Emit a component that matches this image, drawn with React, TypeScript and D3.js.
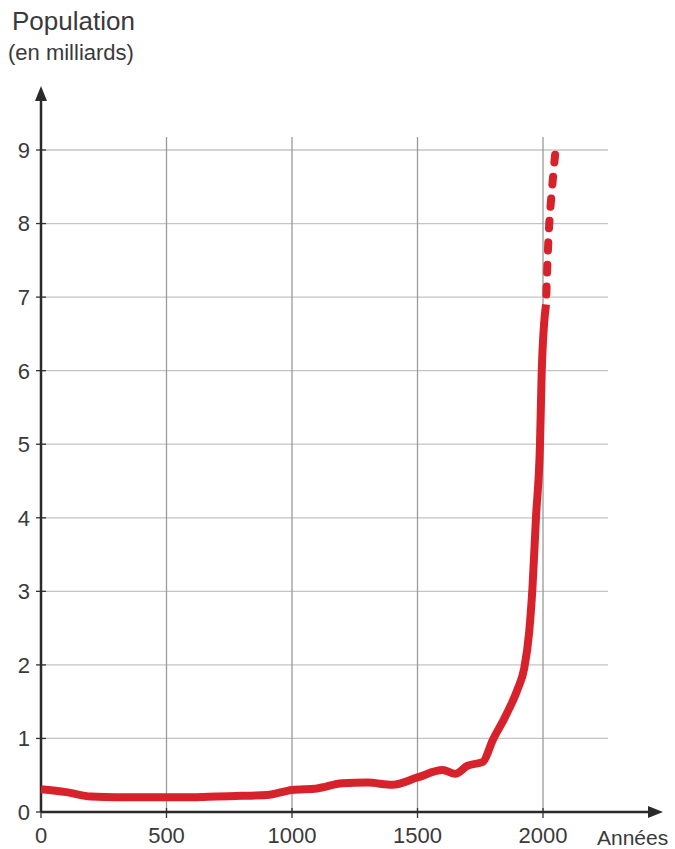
import React from "react";
import * as d3 from "d3";

const years = [0, 100, 200, 300, 400, 500, 600, 700, 800, 900, 1000, 1100, 1200, 1300, 1400, 1500, 1600, 1650, 1700, 1760, 1800, 1850, 1900, 1925, 1945, 1958, 1972, 1988, 1995, 2012];
const population = [0.31, 0.27, 0.21, 0.2, 0.2, 0.2, 0.2, 0.21, 0.22, 0.23, 0.3, 0.32, 0.39, 0.4, 0.37, 0.47, 0.57, 0.52, 0.63, 0.68, 0.98, 1.3, 1.68, 1.95, 2.45, 3.05, 4.0, 5.0, 6.0, 6.9];
const projYears = [2012, 2025, 2050];
const projPopulation = [6.9, 8.0, 9.0];
const xTicks = [0, 500, 1000, 1500, 2000];
const yTicks = [0, 1, 2, 3, 4, 5, 6, 7, 8, 9];

const W = 675;
const H = 849;
const FONT = "'Liberation Sans', Arial, sans-serif";
const RED = "#d8222b";

export default function App() {
  const x = d3.scaleLinear().domain([0, 2000]).range([41, 543]);
  const y = d3.scaleLinear().domain([0, 9]).range([812, 150]);
  const gridRight = 608;
  const gridTop = 137;

  const solid = years.map((yr, i) => [yr, population[i]] as [number, number]);
  const proj = projYears.map((yr, i) => [yr, projPopulation[i]] as [number, number]);

  const line = d3
    .line<[number, number]>()
    .x((d) => x(d[0]))
    .y((d) => y(d[1]))
    .curve(d3.curveMonotoneX);
  const projLine = d3
    .line<[number, number]>()
    .x((d) => x(d[0]))
    .y((d) => y(d[1]))
    .curve(d3.curveCatmullRom);

  return (
    <svg
      width={W}
      height={H}
      style={{ position: "absolute", left: 0, top: 0, background: "#fff" }}
      fontFamily={FONT}
    >
      <rect width={W} height={H} fill="#fff" />
      {/* horizontal grid */}
      {yTicks.filter((t) => t > 0).map((t) => (
        <line key={"h" + t} x1={x(0)} x2={gridRight} y1={y(t)} y2={y(t)} stroke="#c4c4c4" strokeWidth={1.3} />
      ))}
      {/* vertical grid */}
      {xTicks.filter((t) => t > 0).map((t) => (
        <line key={"v" + t} x1={x(t)} x2={x(t)} y1={gridTop} y2={y(0)} stroke="#9a9a9a" strokeWidth={1.3} />
      ))}
      {/* y ticks & labels */}
      {yTicks.map((t) => (
        <g key={"yt" + t}>
          <line x1={x(0) - 5} x2={x(0) + 5} y1={y(t)} y2={y(t)} stroke="#333" strokeWidth={1.3} />
          <text x={30} y={y(t)} dy="0.36em" textAnchor="end" fontSize={22} fill="#3a3a3a">
            {t}
          </text>
        </g>
      ))}
      {/* x ticks & labels */}
      {xTicks.map((t) => (
        <g key={"xt" + t}>
          <line x1={x(t)} x2={x(t)} y1={y(0) - 4} y2={y(0) + 6} stroke="#333" strokeWidth={1.3} />
          <text x={x(t)} y={843} textAnchor="middle" fontSize={22} fill="#3a3a3a">
            {t}
          </text>
        </g>
      ))}
      {/* axes */}
      <line x1={x(0)} x2={x(0)} y1={y(0)} y2={98} stroke="#2a2a2a" strokeWidth={2.5} />
      <path d={`M${x(0)},86 L${x(0) - 6},101 L${x(0) + 6},101 Z`} fill="#2a2a2a" />
      <line x1={x(0)} x2={650} y1={y(0)} y2={y(0)} stroke="#2a2a2a" strokeWidth={2.5} />
      <path d={`M663,${y(0)} L648,${y(0) - 6} L648,${y(0) + 6} Z`} fill="#2a2a2a" />

      {/* data */}
      <path d={line(solid) || ""} fill="none" stroke={RED} strokeWidth={8} strokeLinejoin="round" strokeLinecap="butt" />
      <path
        d={projLine(proj) || ""}
        fill="none"
        stroke={RED}
        strokeWidth={8}
        strokeDasharray="8 14"
        strokeDashoffset={-10}
        strokeLinecap="round"
      />

      {/* titles */}
      <text x={12} y={30} fontSize={26} fill="#3a3a3a">Population</text>
      <text x={8} y={60} fontSize={22} fill="#3a3a3a">(en milliards)</text>
      <text x={597} y={845} fontSize={21} fill="#3a3a3a">Années</text>
    </svg>
  );
}
